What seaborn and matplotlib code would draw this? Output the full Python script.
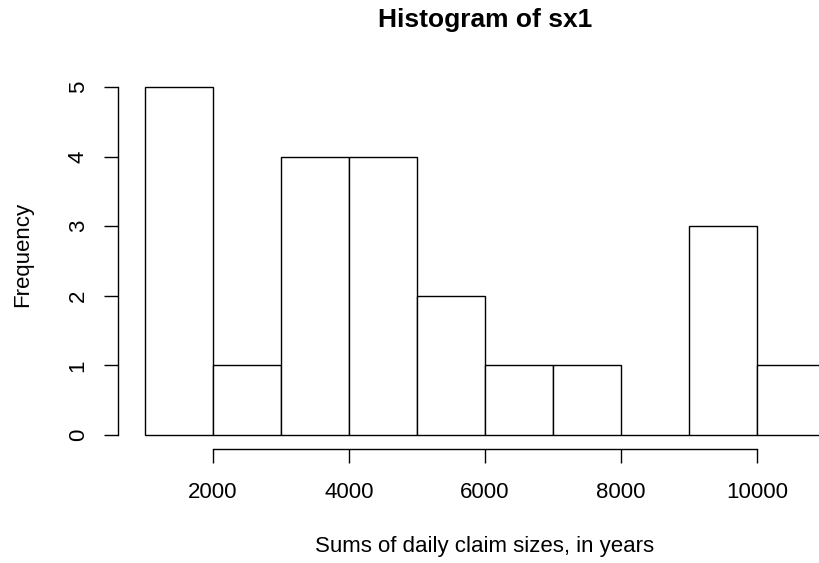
import matplotlib
matplotlib.use("Agg")
import matplotlib.pyplot as plt
import seaborn as sns

# Histogram of sx1: bin edges and counts per bin
bin_edges = [1000, 2000, 3000, 4000, 5000, 6000, 7000, 8000, 9000, 10000, 11000]
counts = [5, 1, 4, 4, 2, 1, 1, 0, 3, 1]
x_ticks = [2000, 4000, 6000, 8000, 10000]
y_ticks = [0, 1, 2, 3, 4, 5]

title = "Histogram of sx1"
x_label = "Sums of daily claim sizes, in years"
y_label = "Frequency"

sns.set_style("white")
plt.rcParams["font.family"] = ["Liberation Sans", "DejaVu Sans"]
plt.rcParams["text.color"] = "black"
plt.rcParams["axes.labelcolor"] = "black"

W, H = 820, 563
fig = plt.figure(figsize=(W / 100, H / 100), dpi=100)

# plot region follows R's 4% padding around the data range
x0, x1 = 600, 11400
y0, y1 = -0.2, 5.2
px_left, px_right = 117.8, 852.0
px_bottom, px_top = 449.0, 73.0
ax = fig.add_axes([px_left / W, 1 - px_bottom / H,
                   (px_right - px_left) / W, (px_bottom - px_top) / H])

centers = [(a + b) / 2 for a, b in zip(bin_edges[:-1], bin_edges[1:])]
sns.histplot(x=centers, weights=counts, bins=bin_edges, ax=ax,
             color="white", edgecolor="black", linewidth=1.0, alpha=1.0)

ax.set_xlim(x0, x1)
ax.set_ylim(y0, y1)
ax.set_xticks(x_ticks)
ax.set_xticklabels([str(t) for t in x_ticks])
ax.set_yticks(y_ticks)
ax.set_yticklabels([str(t) for t in y_ticks], rotation=90, va="center")

for s in ["top", "right"]:
    ax.spines[s].set_visible(False)
ax.spines["left"].set_bounds(0, 5)
ax.spines["bottom"].set_bounds(2000, 10000)
for s in ["left", "bottom"]:
    ax.spines[s].set_color("black")
    ax.spines[s].set_linewidth(1.0)

ax.tick_params(axis="both", direction="out", length=10, width=1.0,
               colors="black", labelsize=16, left=True, bottom=True)
ax.tick_params(axis="y", pad=11)
ax.tick_params(axis="x", pad=14)
ax.set_xlabel("")
ax.set_ylabel("")

cx = (px_left + px_right) / 2 / W
fig.text(cx, 1 - 27 / H, title, ha="center", va="baseline",
         fontsize=19, fontweight="bold", color="black")
fig.text(cx, 1 - 552 / H, x_label, ha="center", va="baseline",
         fontsize=16, color="black")
fig.text(28 / W, 1 - 254 / H, y_label, rotation=90, rotation_mode="anchor",
         ha="center", va="baseline", fontsize=16, color="black")

fig.savefig("out.png", dpi=100)
